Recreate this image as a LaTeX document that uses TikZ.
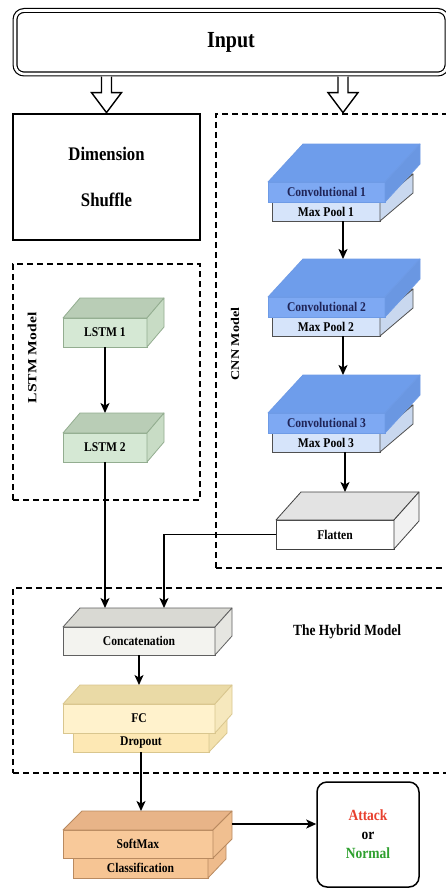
\documentclass[tikz,border=0pt]{standalone}
\usepackage{graphicx}
\usepackage{fontspec}
\setmainfont{Liberation Serif}
\usetikzlibrary{arrows.meta}

% face colours of the layer blocks
\definecolor{lstmfront}{HTML}{D5E8D4}\definecolor{lstmtop}{HTML}{B9CDB6}\definecolor{lstmside}{HTML}{C8DCC5}\definecolor{lstmline}{HTML}{93AD90}
\definecolor{convfront}{HTML}{7EA9F3}\definecolor{convtop}{HTML}{6E9DEB}\definecolor{convside}{HTML}{6A97E2}\definecolor{convline}{HTML}{6E9BE6}
\definecolor{poolfront}{HTML}{D6E4FA}\definecolor{pooltop}{HTML}{C5D6F0}\definecolor{poolside}{HTML}{C9D8EF}\definecolor{poolline}{HTML}{505050}
\definecolor{flatfront}{HTML}{FFFFFF}\definecolor{flattop}{HTML}{E3E3E3}\definecolor{flatside}{HTML}{F1F1F1}\definecolor{flatline}{HTML}{404040}
\definecolor{catfront}{HTML}{F3F3EF}\definecolor{cattop}{HTML}{D9D9D3}\definecolor{catside}{HTML}{E6E6E1}\definecolor{catline}{HTML}{606060}
\definecolor{fcfront}{HTML}{FFF2CC}\definecolor{fctop}{HTML}{EADAA6}\definecolor{fcside}{HTML}{F6E8BD}\definecolor{fcline}{HTML}{D9C68E}
\definecolor{dropfront}{HTML}{FDE8B4}\definecolor{droptop}{HTML}{EADAA6}\definecolor{dropside}{HTML}{F3E1AD}\definecolor{dropline}{HTML}{D9C68E}
\definecolor{smfront}{HTML}{F8C99A}\definecolor{smtop}{HTML}{E8B488}\definecolor{smside}{HTML}{F0BF90}\definecolor{smline}{HTML}{B98A60}
\definecolor{clsfront}{HTML}{F6C594}\definecolor{clstop}{HTML}{E8B488}\definecolor{clsside}{HTML}{EEBB8C}\definecolor{clsline}{HTML}{B98A60}
\definecolor{navy}{HTML}{1F2457}
\definecolor{attackred}{HTML}{E8402E}
\definecolor{normalgreen}{HTML}{2EA02E}

% slightly tall bold lettering
\newcommand{\lbl}[1]{\scalebox{1}[1.15]{#1}}

% a block drawn as a cuboid: name, centre of front face, width, height,
% depth dx, depth dy, colour prefix, text; (name-back) is the middle of its top back edge
\newcommand{\cube}[8]{%
  \node[draw=#7line, fill=#7front, line width=0.8pt, inner sep=0pt, outer sep=0pt,
        minimum width=#3pt, minimum height=#4pt, font=\layerfont] (#1) at #2 {\lbl{#8}};
  \filldraw[draw=#7line, fill=#7top, line width=0.8pt, line join=round]
    (#1.north west) -- ++(#5,-#6) -- ++(#3,0) -- (#1.north east) -- cycle;
  \filldraw[draw=#7line, fill=#7side, line width=0.8pt, line join=round]
    (#1.north east) -- ++(#5,-#6) -- ++(0,#4) -- (#1.south east) -- cycle;
  \coordinate (#1-back) at ([shift={(#5,-#6)}]#1.north);
}
\newcommand{\layerfont}{\fontsize{11.6pt}{13pt}\selectfont\bfseries}

\tikzset{
  groupbox/.style={draw, line width=1.9pt, dash pattern=on 6pt off 4pt, inner sep=0pt},
  link/.style={line width=1.5pt, -{Stealth[length=10pt,width=9pt,inset=2.5pt]}},
  hollow/.style={draw, line width=1.4pt, line join=miter, fill=white},
}

\begin{document}
\begin{tikzpicture}[x=1pt,y=-1pt]
\useasboundingbox (0,0) rectangle (445,888);
\fill[white] (0,0) rectangle (445,888);

% input bar with double outline
\node[draw, double, double distance=2.6pt, line width=1.2pt, rounded corners=9pt,
      minimum width=432pt, minimum height=63.5pt, inner sep=0pt]
      (input) at (231,42.25) {\fontsize{20pt}{22pt}\selectfont\bfseries\lbl{Input}};

% dimension shuffle box
\node[draw, line width=1.5pt, minimum width=187pt, minimum height=126pt, inner sep=0pt,
      align=center, font=\fontsize{16.7pt}{46pt}\selectfont\bfseries]
      (dims) at (106.5,177) {\lbl{Dimension}\\\lbl{Shuffle}};

% group frames
\node[groupbox, minimum width=187pt, minimum height=236pt] (lstmbox) at (106.5,382) {};
\node[groupbox, minimum width=234pt, minimum height=454pt] (cnnbox) at (333,341) {};
\node[groupbox, minimum width=437pt, minimum height=185pt] (hybridbox) at (231.5,680.5) {};

\node[rotate=90, font=\fontsize{12.5pt}{14pt}\selectfont\bfseries] (lstmlabel) at (32,358) {\scalebox{1.25}[1]{LSTM Model}};
\node[rotate=90, font=\fontsize{11.8pt}{14pt}\selectfont\bfseries] (cnnlabel) at (235,344) {\scalebox{1.2}[1]{CNN Model}};
\node[font=\fontsize{13.5pt}{15pt}\selectfont\bfseries] (hybridlabel) at (347,632) {\lbl{The Hybrid Model}};

% hollow arrows out of the input bar
\coordinate (cnnin) at (343,114);
\path[hollow] ([xshift=-5pt,yshift=-2pt]input.south -| dims.north) -- ++(0,16) -- ++(-10,0)
      -- ++(15,20) -- ++(15,-20) -- ++(-10,0) -- ++(0,-16);
\path[hollow] ([xshift=-5pt,yshift=-2pt]input.south -| cnnin) -- ++(0,16) -- ++(-10,0)
      -- ++(15,20) -- ++(15,-20) -- ++(-10,0) -- ++(0,-16);

% LSTM branch
\cube{lstma}{(105,332.5)}{84}{29}{17}{20}{lstm}{LSTM 1}
\cube{lstmb}{(105,447.5)}{84}{29}{17}{20}{lstm}{LSTM 2}

% CNN branch
\cube{poola}{(326,211.5)}{108}{19}{33}{28}{pool}{Max Pool 1}
\cube{conva}{(326.5,192)}{117}{20}{35}{38}{conv}{\color{navy}Convolutional 1}
\cube{poolb}{(326,326.5)}{108}{19}{33}{28}{pool}{Max Pool 2}
\cube{convb}{(326.5,307)}{117}{20}{35}{38}{conv}{\color{navy}Convolutional 2}
\cube{poolc}{(326,442.5)}{108}{19}{33}{28}{pool}{Max Pool 3}
\cube{convc}{(326.5,423)}{117}{20}{35}{38}{conv}{\color{navy}Convolutional 3}
\cube{flat}{(335,534.5)}{118}{29}{25}{28}{flat}{Flatten}

% hybrid part
\cube{concat}{(139,641)}{152}{28}{17}{19}{cat}{Concatenation}
\cube{drop}{(141,742.5)}{136}{19}{18}{19}{drop}{Dropout}
\cube{fc}{(139,718.5)}{152}{29}{17}{19}{fc}{FC}
\cube{cls}{(140.5,868)}{135}{20}{18}{19}{cls}{Classification}
\cube{softmax}{(138,844)}{150}{28}{19}{19}{sm}{SoftMax}

% result box
\node[draw, line width=1.5pt, rounded corners=10pt, minimum width=102pt, minimum height=105pt,
      inner sep=0pt, align=center, font=\fontsize{13.5pt}{19pt}\selectfont\bfseries]
      (result) at (368,834.5)
      {\lbl{\color{attackred}Attack}\\\lbl{or}\\\lbl{\color{normalgreen}Normal}};

% connectors
\coordinate (convb-in) at ([xshift=17pt]poola.south |- convb-back);
\coordinate (convc-in) at ([xshift=17pt]poolb.south |- convc-back);
\coordinate (flat-in) at ([xshift=19pt]poolc.south |- flat-back);
\coordinate (catin) at ([xshift=25pt]concat.north |- concat-back);
\coordinate (smin) at (drop.south |- softmax-back);
\coordinate (smout) at ([shift={(19,-20)}]softmax.east);

\draw[link] (lstma.south) -- (lstma.south |- lstmb-back);
\draw[link] ([xshift=17pt]poola.south) -- (convb-in);
\draw[link] ([xshift=17pt]poolb.south) -- (convc-in);
\draw[link] ([xshift=19pt]poolc.south) -- (flat-in);
\draw[link] (lstmb.south) -- (lstmb.south |- concat-back);
\draw[link] (flat.west) -| (catin);
\draw[link] (concat.south) -- (concat.south |- fc-back);
\draw[link] (drop.south) -- (smin);
\draw[link] (smout) -- (smout -| result.west);
\end{tikzpicture}
\end{document}
